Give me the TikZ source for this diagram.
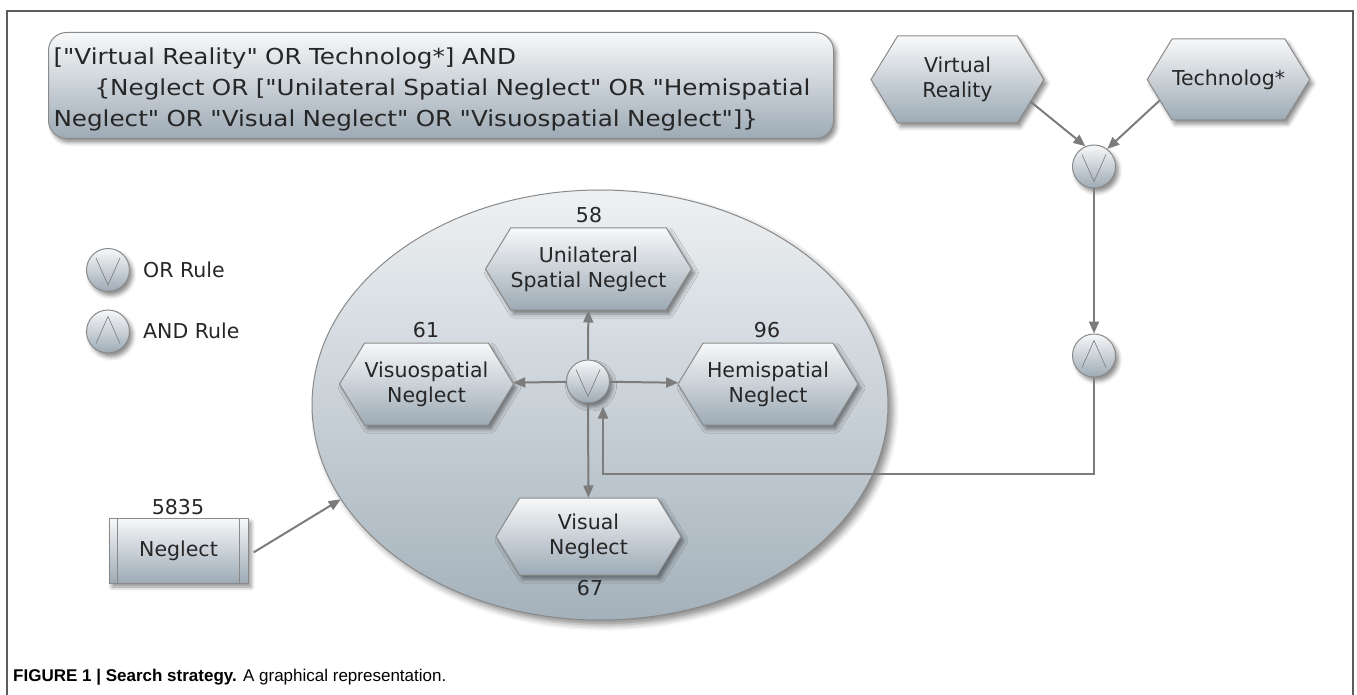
\documentclass[tikz,border=0pt]{standalone}
\usepackage{fontspec}
\setmainfont{DejaVu Sans}[Ligatures=TeXOff]
\newfontfamily\queryfont{DejaVu Sans}[FakeStretch=1.12, Ligatures=TeXOff]
\newfontfamily\capfont{Liberation Sans}
\usetikzlibrary{shapes.geometric, shapes.symbols, shadows.blur, arrows.meta}

\definecolor{edgegray}{HTML}{8A8A8A}
\definecolor{flowgray}{HTML}{7C7C7C}
\definecolor{framegray}{HTML}{5C5C5C}
\definecolor{paneltop}{HTML}{F7F8F9}
\definecolor{panelbot}{HTML}{9DAAB5}
\definecolor{ovaltop}{HTML}{EEF1F3}
\definecolor{ovalbot}{HTML}{A4B1BB}

\tikzset{
	panel/.style={draw=edgegray, line width=1pt, top color=paneltop, bottom color=panelbot, text=black!85,
		blur shadow={shadow xshift=3pt, shadow yshift=-4pt, shadow blur radius=4pt, shadow opacity=45}},
	hexbox/.style={panel, signal, signal to=east and west, signal pointer angle=117, inner sep=0pt,
		align=center, font=\fontsize{20.5}{25}\selectfont},
	rulenode/.style={panel, circle, minimum size=43pt, inner sep=0pt},
	orrule/.style={rulenode, path picture={
		\draw[flowgray, line width=0.6pt] ([shift={(-12pt,12pt)}]path picture bounding box.center)
			-- ([yshift=-15pt]path picture bounding box.center)
			-- ([shift={(12pt,12pt)}]path picture bounding box.center);}},
	andrule/.style={rulenode, path picture={
		\draw[flowgray, line width=0.6pt] ([shift={(-12pt,-12pt)}]path picture bounding box.center)
			-- ([yshift=15pt]path picture bounding box.center)
			-- ([shift={(12pt,-12pt)}]path picture bounding box.center);}},
	oval/.style={ellipse, draw=edgegray, line width=1pt, top color=ovaltop, bottom color=ovalbot,
		minimum width=576pt, minimum height=430pt, inner sep=0pt,
		blur shadow={shadow xshift=5pt, shadow yshift=-5pt, shadow blur radius=6pt, shadow opacity=45}},
	tally/.style={inner sep=0pt, text=black!85, font=\fontsize{20.5}{25}\selectfont},
	flow/.style={draw=flowgray, line width=2pt, -{Triangle[length=12pt,width=10pt]}}
}

\begin{document}
\begin{tikzpicture}[x=1pt,y=-1pt]

	\useasboundingbox (0,0) rectangle (1357,695);
	\draw[framegray, line width=1.2pt] (7,695) -- (7,11) -- (1353,11) -- (1353,695);

	\node[oval] (oval) at (600,405) {};

	\node[panel, rounded corners=18pt, anchor=north west, text width=775pt, minimum height=106pt,
		inner xsep=5pt, align=left, font=\queryfont\fontsize{22}{31}\selectfont] (query) at (48,32)
		{\rule{0pt}{24pt}["Virtual Reality" OR Technolog*] AND\\
		\mbox{\hspace*{41pt}\{Neglect OR ["Unilateral Spatial Neglect" OR "Hemispatial}\\
		Neglect" OR "Visual Neglect" OR "Visuospatial Neglect"]\}};

	\node[hexbox, minimum width=173pt, minimum height=87pt] (vr) at (957.5,79.5) {Virtual\\Reality};
	\node[hexbox, minimum width=161pt, minimum height=81pt] (tech) at (1228.5,79.5) {Technolog*};
	\node[orrule] (ortop) at (1094,166.5) {};
	\node[andrule] (andrule) at (1094,355.5) {};

	\node[hexbox, minimum width=205pt, minimum height=82pt] (unil) at (588.5,269) {Unilateral\\Spatial Neglect};
	\node[hexbox, minimum width=173pt, minimum height=82pt] (visuo) at (426.5,384) {Visuospatial\\Neglect};
	\node[hexbox, minimum width=180pt, minimum height=82pt] (hemi) at (768,384) {Hemispatial\\Neglect};
	\node[hexbox, minimum width=185pt, minimum height=77pt] (visual) at (588.5,536.5) {Visual\\Neglect};
	\node[orrule] (ormid) at (588,381.5) {};

	\node[tally] (n58) at (589,215) {58};
	\node[tally] (n61) at (426,330) {61};
	\node[tally] (n96) at (767,330) {96};
	\node[tally] (n67) at (590,588) {67};
	\node[tally] (n5835) at (178,507) {5835};

	\node[panel, minimum width=139pt, minimum height=65pt, inner sep=0pt,
		font=\fontsize{20.5}{25}\selectfont] (neglect) at (178.5,550.5) {Neglect};
	\draw[edgegray, line width=1pt] ([xshift=9pt]neglect.north west) -- ([xshift=9pt]neglect.south west);
	\draw[edgegray, line width=1pt] ([xshift=-9pt]neglect.north east) -- ([xshift=-9pt]neglect.south east);

	\node[orrule] (keyor) at (108,270) {};
	\node[tally, anchor=west] (keyortext) at (143,270) {OR Rule};
	\node[andrule] (keyand) at (108,331.5) {};
	\node[tally, anchor=west] (keyandtext) at (143,331) {AND Rule};

	\node[anchor=base west, inner sep=0pt, font=\capfont\fontsize{17}{20}\selectfont] (caption) at (13,681)
		{\textbf{FIGURE 1 | Search strategy.} A graphical representation.};

	\draw[flow] (vr.-17) -- (ortop.113);
	\draw[flow] (tech.197) -- (ortop.53);
	\draw[flow] (ortop) -- (andrule);

	\coordinate (back) at (603,474);
	\draw[flow, shorten >=3pt] (andrule) |- (back) -- (back |- ormid.south);

	\draw[flow] (ormid) -- (unil);
	\draw[flow] (ormid) -- (visuo);
	\draw[flow] (ormid) -- (hemi);
	\draw[flow] (ormid) -- (visual);

	\draw[flow, shorten <=6pt] ([yshift=-5pt]neglect.east) -- (oval.200);

\end{tikzpicture}
\end{document}
